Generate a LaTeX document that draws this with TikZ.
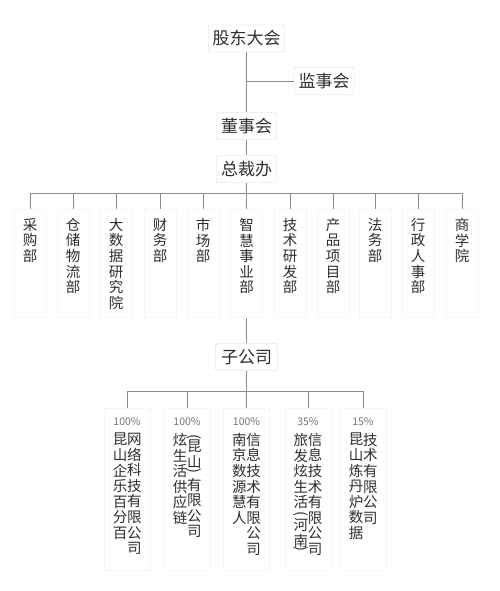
\documentclass[tikz,border=0pt]{standalone}
\usepackage{fontspec}
\usepackage{graphicx}
\setmainfont{Noto Sans CJK SC}
\definecolor{txt}{HTML}{2E2E2E}
\definecolor{ln}{HTML}{8C8C8C}
\definecolor{bd}{HTML}{D6D6D6}
\definecolor{pc}{HTML}{767676}
\definecolor{fb}{HTML}{F6F6F6}
\newcommand{\vlp}{\raisebox{0pt}[0pt][0pt]{\rotatebox{-90}{(}}}
\newcommand{\vrp}{\raisebox{0pt}[0pt][0pt]{\rotatebox{-90}{)}}}
\tikzset{
  topbox/.style={draw=bd, fill=white, rounded corners=2pt, minimum height=27pt,
    inner xsep=3pt, inner ysep=0pt, font=\fontsize{17}{17}\selectfont, text=txt},
  conn/.style={draw=ln, line width=0.9pt},
  vtext/.style={align=center, inner sep=0pt, anchor=north,
    font=\fontsize{14.5}{15.6}\selectfont, text=txt},
  pct/.style={font=\fontsize{10.5}{11}\selectfont, text=pc, inner sep=0pt},
  colbox/.style={draw=fb, line width=0.5pt, inner sep=0pt, anchor=north},
}
\begin{document}
\begin{tikzpicture}[x=1pt,y=-1pt]
\useasboundingbox (0,0) rectangle (500,591);
\fill[white] (0,0) rectangle (500,591);

% top part
\node[topbox, minimum width=76pt] (gd) at (246.5,38.5) {股东大会};
\node[topbox, minimum width=60pt] (js) at (324,81) {监事会};
\node[topbox, minimum width=60pt] (dsh) at (246.5,126) {董事会};
\node[topbox, minimum width=60pt] (zcb) at (246.5,169) {总裁办};
\node[topbox, minimum width=62pt] (zgs) at (246.5,357) {子公司};

\draw[conn] (gd.south) -- (dsh.north);
\coordinate (jsj) at (gd.south |- js.west);
\draw[conn] (jsj) -- (js.west);
\draw[conn] (dsh.south) -- (zcb.north);

% department column boxes
\foreach \x [count=\i] in {30,73,116,160,203,246.5,290,333,375,418,462}
  \node[colbox, minimum width=32pt, minimum height=108pt] (b\i) at (\x,209) {};

\coordinate (bar) at (246.5,193);
\draw[conn] (zcb.south) -- (bar);
\draw[conn] (b1.north |- bar) -- (b11.north |- bar);
\foreach \i in {1,...,11}
  \draw[conn] (b\i.north |- bar) -- (b\i.north);

% department names
\node[vtext] (d1) at (30,218) {采\\购\\部};
\node[vtext] (d2) at (73,218) {仓\\储\\物\\流\\部};
\node[vtext] (d3) at (116,218) {大\\数\\据\\研\\究\\院};
\node[vtext] (d4) at (160,218) {财\\务\\部};
\node[vtext] (d5) at (203,218) {市\\场\\部};
\node[vtext] (d6) at (246.5,218) {智\\慧\\事\\业\\部};
\node[vtext] (d7) at (290,218) {技\\术\\研\\发\\部};
\node[vtext] (d8) at (333,218) {产\\品\\项\\目\\部};
\node[vtext] (d9) at (375,218) {法\\务\\部};
\node[vtext] (d10) at (418,218) {行\\政\\人\\事\\部};
\node[vtext] (d11) at (462,218) {商\\学\\院};

\draw[conn] (b6.south) -- (zgs.north);

% subsidiaries
\foreach \x [count=\i] in {127,187,246.5,308,363}
  \node[colbox, minimum width=46pt, minimum height=162pt] (c\i) at (\x,408) {};

\coordinate (sbar) at (246.5,391);
\draw[conn] (zgs.south) -- (sbar);
\draw[conn] (c1.north |- sbar) -- (c5.north |- sbar);
\foreach \i in {1,...,5}
  \draw[conn] (c\i.north |- sbar) -- (c\i.north);

\node[pct] (p1) at (127,422) {100\%};
\node[pct] (p2) at (187,422) {100\%};
\node[pct] (p3) at (246.5,422) {100\%};
\node[pct] (p4) at (308,422) {35\%};
\node[pct] (p5) at (363,422) {15\%};

\node[vtext] (l1) at (120,433) {昆\\山\\企\\乐\\百\\分\\百};
\node[vtext] (r1) at (134.4,433) {网\\络\\科\\技\\有\\限\\公\\司};

\node[vtext] (l2) at (180,433) {炫\\生\\活\\供\\应\\链};
\node[vtext] (r2) at (194.4,434) {\vlp\\[2pt]昆\\山\\[-14.8pt]\vrp\\[6.2pt]有\\限\\公\\司};

\node[vtext] (l3) at (239.3,433) {南\\京\\数\\源\\慧\\人};
\node[vtext] (r3) at (253.7,433) {信\\息\\技\\术\\有\\限\\公\\司};

\node[vtext] (l4) at (300.8,433) {旅\\发\\炫\\生\\活\\[-11.6pt]\vlp\\[3pt]河\\南\\[-14.8pt]\vrp};
\node[vtext] (r4) at (315.2,433) {信\\息\\技\\术\\有\\限\\公\\司};

\node[vtext] (l5) at (356,433) {昆\\山\\炼\\丹\\炉\\数\\据};
\node[vtext] (r5) at (370.4,433) {技\\术\\有\\限\\公\\司};
\end{tikzpicture}
\end{document}
